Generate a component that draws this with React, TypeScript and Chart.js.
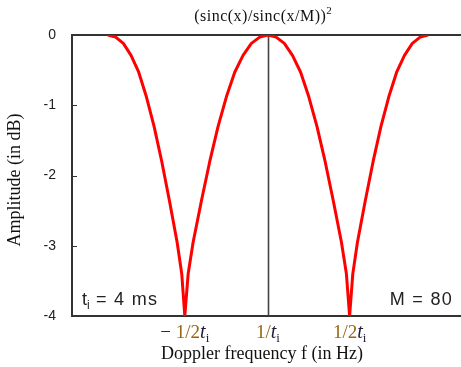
import { useEffect, useRef } from 'react';
import { Chart, registerables } from 'chart.js';

Chart.register(...registerables);

// Curve (x in units of 1/t_i, y in dB)
const freq = [
  -1.0, -0.952, -0.904, -0.856, -0.808, -0.76, -0.712, -0.664, -0.616, -0.568, -0.539, -0.52,
  -0.499, -0.468, -0.416, -0.364, -0.312, -0.26, -0.208, -0.156, -0.104, -0.052, 0,
  0.051, 0.102, 0.153, 0.204, 0.255, 0.306, 0.357, 0.408, 0.459, 0.49, 0.51,
  0.53, 0.559, 0.608, 0.657, 0.706, 0.755, 0.804, 0.853, 0.902, 0.951, 1.0,
];
const amplitude = [
  0, -0.03, -0.12, -0.29, -0.53, -0.88, -1.3, -1.8, -2.36, -2.95, -3.4, -4,
  -3.4, -2.95, -2.36, -1.8, -1.3, -0.88, -0.53, -0.29, -0.12, -0.03, 0,
  -0.03, -0.12, -0.29, -0.53, -0.88, -1.3, -1.8, -2.36, -2.95, -3.4, -4,
  -3.4, -2.95, -2.36, -1.8, -1.3, -0.88, -0.53, -0.29, -0.12, -0.03, 0,
];

const yTicks = [0, -1, -2, -3, -4];
const xTickValues = [-0.52, 0, 0.51];
const xTickSign = ['\u2212 ', '', ''];
const xTickNum = ['1/2', '1/', '1/2'];
const xTickVar = ['t', 't', 't'];
const xTickSub = ['i', 'i', 'i'];

const titleText = '(sinc(x)/sinc(x/M))';
const titleExp = '2';
const xTitle = 'Doppler frequency f (in Hz)';
const yTitle = 'Amplitude (in dB)';
const noteLeftVar = 't';
const noteLeftSub = 'i';
const noteLeftRest = ' = 4 ms';
const noteRight = 'M = 80';

const SERIF = '"Liberation Serif", "Times New Roman", serif';
const SANS = '"Liberation Sans", Arial, sans-serif';

type Part = { text: string; font: string; color: string; dy: number; spacing?: string };

function drawParts(ctx: CanvasRenderingContext2D, parts: Part[], x: number, y: number, align: 'left' | 'center' | 'right') {
  let total = 0;
  const widths = parts.map((p) => {
    ctx.font = p.font;
    (ctx as any).letterSpacing = p.spacing || '0px';
    const w = ctx.measureText(p.text).width;
    total += w;
    return w;
  });
  let cx = align === 'left' ? x : align === 'center' ? x - total / 2 : x - total;
  ctx.textAlign = 'left';
  ctx.textBaseline = 'alphabetic';
  parts.forEach((p, i) => {
    ctx.font = p.font;
    (ctx as any).letterSpacing = p.spacing || '0px';
    ctx.fillStyle = p.color;
    ctx.fillText(p.text, cx, y + p.dy);
    cx += widths[i];
  });
  (ctx as any).letterSpacing = '0px';
}

const overlay = {
  id: 'overlay',
  beforeDatasetsDraw(chart: any) {
    const { ctx, chartArea: a, scales } = chart;
    ctx.save();
    ctx.strokeStyle = '#333';
    ctx.lineWidth = 2;
    ctx.beginPath();
    ctx.moveTo(a.left - 1, a.top);
    ctx.lineTo(a.right + 1, a.top);
    ctx.stroke();
    const x0 = Math.round(scales.x.getPixelForValue(0)) + 0.5;
    ctx.lineWidth = 1.6;
    ctx.strokeStyle = '#444';
    ctx.beginPath();
    ctx.moveTo(x0, a.top);
    ctx.lineTo(x0, a.bottom);
    ctx.stroke();
    ctx.lineWidth = 1;
    ctx.strokeStyle = '#333';
    for (const v of yTicks) {
      const y = Math.round(scales.y.getPixelForValue(v)) + 0.5;
      ctx.beginPath();
      ctx.moveTo(a.left, y);
      ctx.lineTo(a.left + 5, y);
      ctx.stroke();
    }
    ctx.restore();
  },
  afterDraw(chart: any) {
    const { ctx, chartArea: a, scales } = chart;
    ctx.save();
    // title
    drawParts(ctx, [
      { text: titleText, font: `16px ${SERIF}`, color: '#111', dy: 0, spacing: '0.5px' },
      { text: titleExp, font: `11px ${SERIF}`, color: '#111', dy: -7 },
    ], 263, 21, 'center');
    // x tick labels
    xTickValues.forEach((v, i) => {
      const px = scales.x.getPixelForValue(v);
      drawParts(ctx, [
        { text: xTickSign[i], font: `19px ${SERIF}`, color: '#222', dy: 0 },
        { text: xTickNum[i], font: `19px ${SERIF}`, color: '#9a6510', dy: 0 },
        { text: xTickVar[i], font: `italic 20px ${SERIF}`, color: '#1c1c3a', dy: 0 },
        { text: xTickSub[i], font: `13px ${SERIF}`, color: '#1c1c3a', dy: 4 },
      ], px, 338, 'center');
    });
    // x title
    drawParts(ctx, [{ text: xTitle, font: `18px ${SERIF}`, color: '#111', dy: 0 }], (a.left + a.right) / 2 - 4, 359, 'center');
    // y title
    ctx.save();
    ctx.translate(20, 180);
    ctx.rotate(-Math.PI / 2);
    drawParts(ctx, [{ text: yTitle, font: `18px ${SERIF}`, color: '#111', dy: 0 }], 0, 0, 'center');
    ctx.restore();
    // notes
    drawParts(ctx, [
      { text: noteLeftVar, font: `18px ${SANS}`, color: '#222', dy: 0 },
      { text: noteLeftSub, font: `12px ${SANS}`, color: '#222', dy: 4 },
      { text: noteLeftRest, font: `18px ${SANS}`, color: '#222', dy: 0, spacing: '1.3px' },
    ], a.left + 10, 305, 'left');
    drawParts(ctx, [{ text: noteRight, font: `18px ${SANS}`, color: '#222', dy: 0, spacing: '1.3px' }], a.right - 7, 305, 'right');
    ctx.restore();
  },
};

export default function App() {
  const ref = useRef<HTMLCanvasElement>(null);
  useEffect(() => {
    if (!ref.current) return;
    const chart = new Chart(ref.current, {
      type: 'line',
      data: {
        datasets: [
          {
            data: freq.map((x, i) => ({ x, y: amplitude[i] })),
            borderColor: '#ff0000',
            borderWidth: 3,
            pointRadius: 0,
            tension: 0,
            fill: false,
            borderJoinStyle: 'round',
          },
        ],
      },
      options: {
        responsive: false,
        animation: false,
        devicePixelRatio: 1,
        layout: { padding: { top: 35, right: 1, left: 0, bottom: 0 } },
        plugins: { legend: { display: false }, title: { display: false }, tooltip: { enabled: false } },
        scales: {
          x: {
            type: 'linear',
            min: -1.225,
            max: 1.2,
            grid: { display: false },
            border: { display: true, color: '#333', width: 2 },
            ticks: { display: false },
            afterFit: (s: any) => { s.height = 51; },
          },
          y: {
            type: 'linear',
            min: -4,
            max: 0,
            ticks: {
              stepSize: 1,
              padding: 16,
              color: '#222',
              font: { family: SANS, size: 14 },
            },
            grid: { drawOnChartArea: false, drawTicks: false },
            border: { display: true, color: '#333', width: 2 },
            afterFit: (s: any) => { s.width = 72; },
          },
        },
      } as any,
      plugins: [overlay],
    });
    return () => chart.destroy();
  }, []);
  return (
    <canvas
      ref={ref}
      width={461}
      height={367}
      style={{ position: 'absolute', left: 0, top: 0, width: 461, height: 367, background: '#fff' }}
    />
  );
}
